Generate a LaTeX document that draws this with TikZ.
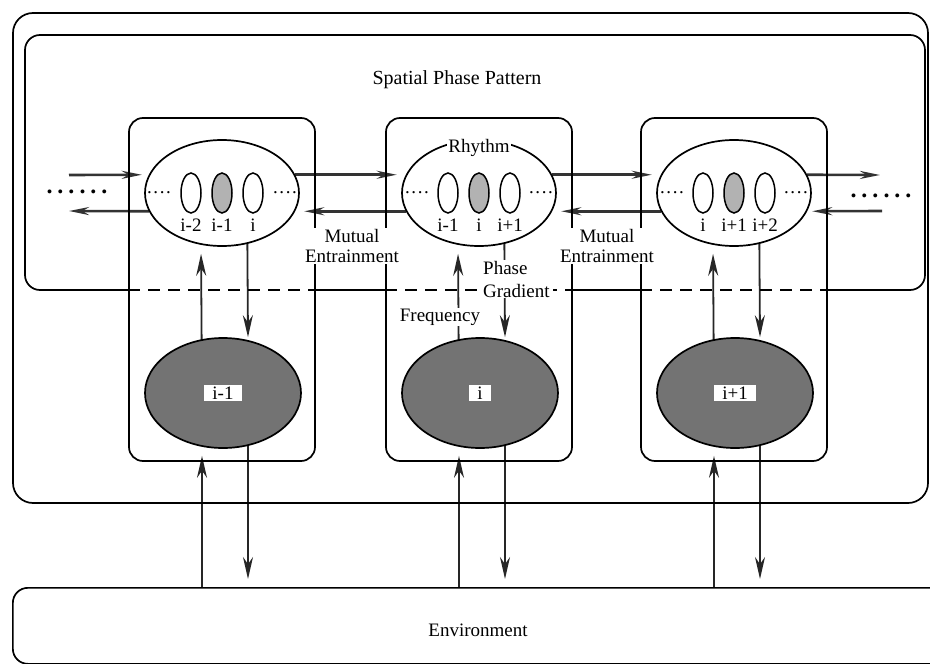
\documentclass[tikz,border=0pt]{standalone}
\usepackage{fontspec}
\setmainfont{Liberation Serif}
\usetikzlibrary{positioning,arrows.meta,shapes.geometric,backgrounds}

\newcommand{\fourdots}{.\kern1.6pt.\kern1.6pt.\kern1.6pt.}
\newcommand{\sixdots}{.\kern5pt.\kern5pt.\kern5pt.\kern5pt.\kern5pt.}

\begin{document}
\begin{tikzpicture}[
  x=1pt, y=-1pt,
  font=\fontsize{19}{17}\selectfont,
  frame/.style={line width=1.7pt, rounded corners=15pt},
  module/.style={draw, line width=1.7pt, rounded corners=14pt, minimum width=186pt,
                 minimum height=343pt, inner sep=0pt},
  rhythm/.style={draw, ellipse, fill=white, line width=1.7pt, minimum width=154pt,
                 minimum height=106pt, inner sep=0pt},
  cell/.style={draw, ellipse, line width=1.5pt, minimum width=20pt, minimum height=40pt,
               inner sep=0pt},
  osc/.style={draw, ellipse, fill=black!55, line width=1.7pt, minimum width=156pt,
              minimum height=110pt, inner sep=0pt},
  tag/.style={fill=white, inner xsep=8pt, inner ysep=2pt},
  idx/.style={inner sep=0pt},
  lbl/.style={fill=white, align=center, inner sep=1pt},
  bigdots/.style={font=\fontsize{24}{24}\selectfont\bfseries, inner sep=0pt},
  harrow/.style={-{Stealth[length=20pt, width=8pt]}, line width=2.6pt, black!80},
  varrow/.style={-{Stealth[length=22pt, width=10pt]}, line width=1.8pt, black!85},
  dashline/.style={line width=1.7pt, dash pattern=on 12pt off 8pt},
]
  \useasboundingbox (0,0) rectangle (930,664);
  \clip (0,0) rectangle (930,664);

  % frames
  \draw[frame, rounded corners=20pt] (13,13) rectangle (928,503);
  \node[module] (mod1) at (222,289.5) {};
  \node[module] (mod2) at (479,289.5) {};
  \node[module] (mod3) at (734,289.5) {};

  \coordinate (sep) at (0,290);
  \draw[frame] (mod1.west |- sep) -| (25,35) -| (925,290) -- (mod3.east |- sep);
  \draw[line width=1.7pt] (mod1.east |- sep) -- (mod2.west |- sep);
  \draw[line width=1.7pt] (mod2.east |- sep) -- (mod3.west |- sep);
  \draw[dashline] (mod1.west |- sep) -- (mod1.east |- sep);
  \draw[dashline] (mod2.west |- sep) -- (mod2.east |- sep);
  \draw[dashline] (mod3.west |- sep) -- (mod3.east |- sep);

  \node (title) at (457,80) {\fontsize{20}{20}\selectfont Spatial Phase Pattern};

  \node[draw, line width=1.7pt, rounded corners=15pt, minimum width=935pt,
        minimum height=76pt, anchor=north west] (env) at (12,587) {};
  \node (envtext) at (478,630) {Environment};

  % rhythm ellipses
  \node[rhythm] (up1) at (222,193) {};
  \node[rhythm] (up2) at (479,193) {};
  \node[rhythm] (up3) at (734,193) {};

  \node[cell] (c1a) at (191,193) {};
  \node[cell, fill=black!30] (c1b) at (222,193) {};
  \node[cell] (c1c) at (253,193) {};
  \node[idx, below=5pt of c1a] {i-2};
  \node[idx, below=5pt of c1b] {i-1};
  \node[idx, below=5pt of c1c] {i};
  \node (d1l) at (159,193) {\fourdots};
  \node (d1r) at (285,193) {\fourdots};

  \node[cell] (c2a) at (448,193) {};
  \node[cell, fill=black!30] (c2b) at (479,193) {};
  \node[cell] (c2c) at (510,193) {};
  \node[idx, below=5pt of c2a] {i-1};
  \node[idx, below=5pt of c2b] {i};
  \node[idx, below=5pt of c2c] {i+1};
  \node (d2l) at (417,193) {\fourdots};
  \node (d2r) at (541,193) {\fourdots};

  \node[cell] (c3a) at (703,193) {};
  \node[cell, fill=black!30] (c3b) at (734,193) {};
  \node[cell] (c3c) at (765,193) {};
  \node[idx, below=5pt of c3a] {i};
  \node[idx, below=5pt of c3b] {i+1};
  \node[idx, below=5pt of c3c] {i+2};
  \node (d3l) at (672,193) {\fourdots};
  \node (d3r) at (796,193) {\fourdots};

  \node[bigdots] (dotsL) at (77,192) {\sixdots};
  \node[bigdots] (dotsR) at (881,196) {\sixdots};

  % oscillators
  \node[osc] (lo1) at (223,393) {};
  \node[osc] (lo2) at (480,393) {};
  \node[osc] (lo3) at (735,393) {};
  \node[tag] (t1) at (lo1) {i-1};
  \node[tag] (t2) at (lo2) {i};
  \node[tag] (t3) at (lo3) {i+1};

  \coordinate (inL) at (69,175);
  \coordinate (outL) at (69,211);
  \coordinate (outR) at (880,175);
  \coordinate (inR) at (882,211);
  \coordinate (ua1) at ([xshift=-21pt]lo1.south);
  \coordinate (ua2) at ([xshift=-21pt]lo2.south);
  \coordinate (ua3) at ([xshift=-21pt]lo3.south);
  \coordinate (da1) at ([xshift=25pt]lo1.south);
  \coordinate (da2) at ([xshift=25pt]lo2.south);
  \coordinate (da3) at ([xshift=25pt]lo3.south);

  \begin{scope}[on background layer]
    \draw[harrow, shorten >=7pt] (inL) -- (up1.166);
    \draw[harrow] (up1.194) -- (outL);
    \draw[harrow, shorten >=9pt] (up1.14) -- (up2.166);
    \draw[harrow, shorten >=9pt] (up2.194) -- (up1.-14);
    \draw[harrow, shorten >=9pt] (up2.14) -- (up3.166);
    \draw[harrow, shorten >=9pt] (up3.194) -- (up2.-14);
    \draw[harrow] (up3.14) -- (outR);
    \draw[harrow, shorten >=5pt] (inR) -- (up3.-14);

    \draw[varrow, shorten >=7pt] ([xshift=-21pt]lo1.center) -- ([xshift=-21pt]up1.south);
    \draw[varrow, shorten >=7pt] ([xshift=-21pt]lo2.center) -- ([xshift=-21pt]up2.south);
    \draw[varrow, shorten >=7pt] ([xshift=-21pt]lo3.center) -- ([xshift=-21pt]up3.south);
    \draw[varrow] ([xshift=25pt]up1.center) -- ([xshift=25pt]lo1.north);
    \draw[varrow] ([xshift=25pt]up2.center) -- ([xshift=25pt]lo2.north);
    \draw[varrow] ([xshift=25pt]up3.center) -- ([xshift=25pt]lo3.north);

    \draw[varrow, shorten >=7pt] (env.north -| ua1) -- (ua1);
    \draw[varrow, shorten >=7pt] (env.north -| ua2) -- (ua2);
    \draw[varrow, shorten >=7pt] (env.north -| ua3) -- (ua3);
    \draw[varrow, shorten >=8pt] ([xshift=25pt]lo1.center) -- (env.north -| da1);
    \draw[varrow, shorten >=8pt] ([xshift=25pt]lo2.center) -- (env.north -| da2);
    \draw[varrow, shorten >=8pt] ([xshift=25pt]lo3.center) -- (env.north -| da3);
  \end{scope}

  % labels
  \node[lbl] (rh) at (479,148) {Rhythm};
  \node[lbl] (me1) at (352,246) {Mutual\\[3pt]Entrainment};
  \node[lbl] (me2) at (607,246) {Mutual\\[3pt]Entrainment};
  \node[lbl] (freq) at (440,317) {Frequency};
  \node[lbl, align=left, anchor=west, inner xsep=3pt] (grad) at (480,279) {Phase\\[6pt]Gradient};
\end{tikzpicture}
\end{document}
